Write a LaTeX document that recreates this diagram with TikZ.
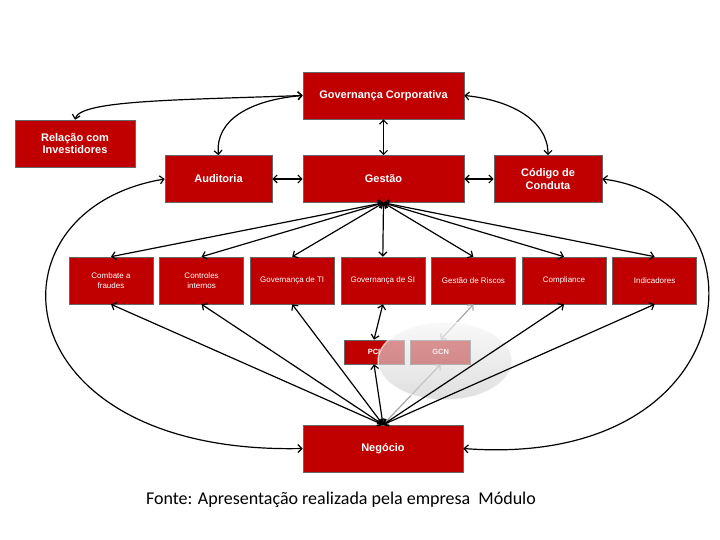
\documentclass[tikz,border=0pt]{standalone}
\usepackage{fontspec}
\setmainfont{Liberation Sans}
\newfontfamily\fontelegenda{Carlito}
\usepackage{xcolor}
\usetikzlibrary{positioning,arrows.meta}
\definecolor{vermelho}{RGB}{192,0,0}

\begin{document}
\begin{tikzpicture}[x=1pt, y=-1pt,
  caixa/.style={draw=black!60, line width=0.6pt, fill=vermelho, text=white, align=center, inner sep=2pt,
    font=\fontsize{11}{12.5}\selectfont\bfseries, minimum width=161pt, minimum height=47pt},
  caixaP/.style={caixa, font=\fontsize{8}{9.5}\selectfont, minimum width=84pt},
  caixaM/.style={caixa, font=\fontsize{7.5}{8}\selectfont\bfseries, minimum width=60pt, minimum height=24pt},
  seta/.style={{Straight Barb[length=4pt, width=8pt]}-{Straight Barb[length=4pt, width=8pt]}, line width=1.2pt},
  setaC/.style={seta, draw=gray!70}]
\useasboundingbox (0,0) rectangle (720,540);
\node[caixa] (gcorp) at (383.5,95.5) {Governança Corporativa};
\node[caixa, minimum width=120pt] (relacao) at (75,143.5) {Relação com\\Investidores};
\node[caixa, minimum width=107pt] (auditoria) at (218.5,179) {Auditoria};
\node[caixa] (gestao) at (383.5,179) {Gestão};
\node[caixa, minimum width=108pt] (codigo) at (548,179) {Código de\\Conduta};
\node[caixaP] (combate) at (111,280.5) {Combate a\\fraudes};
\node[caixaP, right=6pt of combate] (controles) {Controles\\internos};
\node[caixaP, right=6pt of controles] (govti) {Governança de TI};
\node[caixaP, right=6pt of govti] (govsi) {Governança de SI};
\node[caixaP, right=6pt of govsi] (riscos) {Gestão de Riscos};
\node[caixaP, right=6pt of riscos] (compliance) {Compliance};
\node[caixaP, right=6pt of compliance] (indicadores) {Indicadores};
\node[caixaM] (pci) at (374,352) {PCI};
\node[caixaM, right=6pt of pci] (gcn) {GCN};
\node[caixa, minimum width=160pt] (negocio) at (383,448.5) {Negócio};
\node (fonte) at (341,500) {\fontelegenda\fontsize{18}{20}\selectfont Fonte: Apresentação realizada pela empresa\ \ Módulo};

\draw[setaC] (riscos.south) -- (gcn.north);
\draw[setaC] (gcn.south) -- (negocio.north);
\shade[top color=gray!8, bottom color=gray!40, draw=white, line width=1.5pt, opacity=0.62] (445,361) ellipse [x radius=67pt, y radius=39pt];

\draw[seta] (gcorp.west) .. controls (180,100) and (80,100) .. (relacao.north);
\draw[seta] (gcorp.west) .. controls (250,100) and (215,120) .. (auditoria.north);
\draw[seta] (gcorp.east) .. controls (510,100) and (548,120) .. (codigo.north);
\draw[seta] (gcorp) -- (gestao);
\draw[seta] (auditoria) -- (gestao);
\draw[seta] (gestao) -- (codigo);
\draw[seta] (auditoria.west) .. controls (-20,210) and (0,455) .. (negocio.west);
\draw[seta] (codigo.east) .. controls (770,200) and (750,470) .. (negocio.east);
\foreach \m in {combate, controles, govti, govsi, riscos, compliance, indicadores} \draw[seta] (gestao.south) -- (\m.north);
\foreach \m in {combate, controles, govti, compliance, indicadores} \draw[seta] (\m.south) -- (negocio.north);
\draw[seta] (govsi.south) -- (pci.north);
\draw[seta] (pci.south) -- (negocio.north);
\end{tikzpicture}
\end{document}
